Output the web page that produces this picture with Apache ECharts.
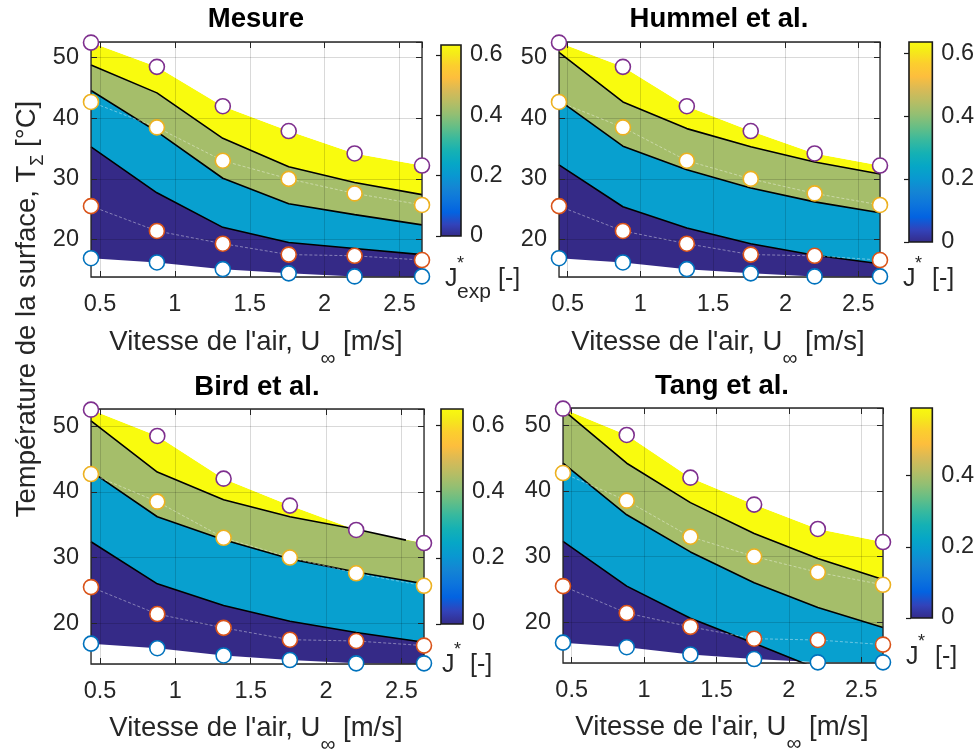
<!DOCTYPE html>
<html><head><meta charset="utf-8">
<script src="https://cdn.jsdelivr.net/npm/echarts@6/dist/echarts.min.js"></script>
<style>html,body{margin:0;padding:0;background:#fff}#c{width:977px;height:754px}</style>
</head><body><div id="c"></div>
<script>
// ---------- data ----------
const speeds = [0.44, 0.88, 1.32, 1.76, 2.2, 2.65];           // U_inf [m/s]
const tempBlue   = [16.9, 16.2, 15.1, 14.4, 13.9, 13.9];       // measured T (lowest)
const tempRed    = [25.5, 21.4, 19.3, 17.5, 17.3, 16.6];
const tempYellow = [42.7, 38.5, 33.0, 30.0, 27.6, 25.7];
const tempPurple = [52.5, 48.5, 42.0, 37.9, 34.2, 32.2];       // measured T (highest)

// contour lines (levels between colour bands), y values at `speeds`
const mesureLine1 = [35.3, 27.7, 22.0, 19.5, 18.5, 17.5];
const mesureLine2 = [44.6, 37.8, 30.1, 25.9, 24.1, 22.4];
const mesureLine3 = [48.8, 44.2, 36.7, 32.0, 29.4, 27.4];

const hummelLine1 = [32.3, 25.4, 21.9, 19.3, 17.4, 16.0];
const hummelLine2 = [43.0, 35.4, 31.5, 28.5, 26.2, 24.4];
const hummelLine3 = [50.9, 42.7, 38.3, 35.3, 32.8, 30.8];

const birdLine1 = [32.4, 26.0, 22.7, 20.3, 18.6, 17.1];
const birdLine2 = [43.1, 36.2, 32.7, 29.8, 27.8, 26.0];
const birdLine3 = [50.8, 43.0, 38.8, 36.2, 34.3, null];
const birdLine3Exit = [2.53, 32.65];   // where the line leaves the domain (top)

const tangLine1 = [32.3, 25.5, 20.6, 16.8, 12.9, null];
const tangLine2 = [44.2, 36.35, 30.7, 26.0, 22.25, 19.2];
const tangLine3 = [52.3, 44.2, 38.2, 33.5, 29.7, 26.5];

const xTicks = [0.5, 1, 1.5, 2, 2.5];
const yTicks = [20, 30, 40, 50];
const cbarTicks = [0, 0.2, 0.4, 0.6];
const cbarMax = [0.633, 0.635, 0.65, 0.59];

const titles = ['Mesure', 'Hummel et al.', 'Bird et al.', 'Tang et al.'];

// ---------- styles ----------
const F = '"Liberation Sans", Arial, Helvetica, sans-serif';
const TXT = '#262626';
const bandColors = ['#352a87', '#08a0cf', '#a5be6a', '#f9fb0e'];
const markerColors = ['#0072BD', '#D95319', '#EDB120', '#7E2F8E'];
const parulaIdx = [0, 4, 8, 12, 16, 20, 24, 28, 32, 36, 40, 44, 48, 52, 56, 60, 63];
const parulaCol = ['#352a87', '#3243ba', '#0363e1', '#0d75dc', '#1485d4', '#0998d1', '#06a7c6', '#15b1b4',
  '#38b99e', '#65be86', '#92bf73', '#b7bd64', '#d9ba56', '#fdbe3d', '#fcce2e', '#f5eb18', '#f9fb0e'];
const yMin = 13.8, yMax = 52.6, xMin = 0.44, xMax = 2.65;
const LABEL_FS = 27.5, TICK_FS = 23.5;

const layout = [
  { grid: {left: 91, top: 42, width: 331, height: 235}, cbar: {left: 441, top: 45, width: 20, height: 191},
    title: [256, 19], xlab: [256, 342], j: [445, 279], sub: 'exp', bracketDx: 53 },
  { grid: {left: 559, top: 42, width: 321, height: 235}, cbar: {left: 909, top: 42, width: 24, height: 200},
    title: [719, 19], xlab: [718, 342], j: [903, 279], sub: null, bracketDx: 29 },
  { grid: {left: 91, top: 409, width: 333, height: 255}, cbar: {left: 441, top: 409, width: 22, height: 215},
    title: [257, 387], xlab: [256, 728], j: [442, 665], sub: null, bracketDx: 28 },
  { grid: {left: 563, top: 408, width: 320, height: 255}, cbar: {left: 911, top: 408, width: 23, height: 210},
    title: [722, 386], xlab: [722, 727], j: [906, 657], sub: null, bracketDx: 29 }
];

const panelLines = [
  [{y: mesureLine1}, {y: mesureLine2}, {y: mesureLine3}],
  [{y: hummelLine1}, {y: hummelLine2}, {y: hummelLine3}],
  [{y: birdLine1}, {y: birdLine2}, {y: birdLine3, exit: birdLine3Exit, exitTop: true}],
  [{y: tangLine1}, {y: tangLine2}, {y: tangLine3}]
];

const pairs = (ys) => speeds.map((x, i) => ys[i] == null ? null : [x, ys[i]]).filter(Boolean);
const near = (v, arr) => arr.some(t => Math.abs(t - v) < 1e-6);

const grids = [], xAxes = [], yAxes = [], series = [], graphics = [];

layout.forEach((L, p) => {
  grids[p] = Object.assign({show: true, borderColor: TXT, borderWidth: 1.3, backgroundColor: 'transparent', z: 10}, L.grid);
  const cbGrad = {type: 'linear', x: 0, y: 1, x2: 0, y2: 0,
    colorStops: parulaIdx.map((k, i) => ({offset: k / 63, color: parulaCol[i]}))};
  grids[4 + p] = Object.assign({show: true, borderColor: '#1a1a1a', borderWidth: 1.6, backgroundColor: cbGrad, z: 0}, L.cbar);

  const common = {type: 'value', gridIndex: p, axisLine: {show: false}, z: 7,
    axisTick: {inside: true, length: 6, lineStyle: {color: TXT, width: 1}}};
  xAxes[p] = Object.assign({}, common, {min: xMin, max: xMax, position: 'bottom',
    axisLabel: {fontSize: TICK_FS, fontFamily: F, color: TXT, margin: 16, showMinLabel: false, showMaxLabel: false,
      formatter: v => near(v, xTicks) ? String(v) : ''},
    splitLine: {show: true, lineStyle: {color: 'rgba(0,0,0,0.15)', width: 1}}});
  yAxes[p] = Object.assign({}, common, {min: yMin, max: yMax, position: 'left',
    axisLabel: {fontSize: TICK_FS, fontFamily: F, color: TXT, margin: 12, showMinLabel: false, showMaxLabel: false,
      formatter: v => near(v, yTicks) ? String(v) : ''},
    splitLine: {show: true, lineStyle: {color: 'rgba(0,0,0,0.15)', width: 1}}});
  xAxes[4 + p] = Object.assign({}, common, {min: xMin, max: xMax, position: 'top',
    axisLabel: {show: false}, splitLine: {show: false}});
  yAxes[4 + p] = Object.assign({}, common, {min: yMin, max: yMax, position: 'right',
    axisLabel: {show: false}, splitLine: {show: false}});
  xAxes[8 + p] = {type: 'value', gridIndex: 4 + p, min: 0, max: 1, show: false};
  yAxes[8 + p] = {type: 'value', gridIndex: 4 + p, min: 0, max: cbarMax[p], interval: 0.2, position: 'right', z: 1,
    axisLine: {show: false}, splitLine: {show: false},
    axisTick: {inside: true, length: 5, lineStyle: {color: '#1a1a1a', width: 1.2}},
    axisLabel: {fontSize: TICK_FS, fontFamily: F, color: TXT, margin: 9, showMaxLabel: false,
      formatter: v => near(v, cbarTicks) ? String(v) : ''}};

  const base = {xAxisIndex: p, yAxisIndex: p, silent: true, animation: false};
  const area = (data, color, origin, z) => Object.assign({type: 'line', data, symbol: 'none', showSymbol: false,
    lineStyle: {width: 0, opacity: 0}, areaStyle: {color, opacity: 1, origin}, z}, base);

  const lines = panelLines[p].map(l => {
    const pts = pairs(l.y);
    if (l.exit) pts.push(l.exit);
    return {pts, l};
  });
  // area under each contour line; where a line leaves through the top, continue along the top boundary
  const areaPts = lines.map(({pts, l}) => {
    const a = pts.slice();
    if (l.exitTop) {
      const lastX = a[a.length - 1][0];
      speeds.forEach((x, i) => { if (x > lastX) a.push([x, tempPurple[i]]); });
    }
    return a;
  });

  series.push(area(pairs(tempPurple), bandColors[3], 'start', 1));
  series.push(area(areaPts[2], bandColors[2], 'start', 2));
  series.push(area(areaPts[1], bandColors[1], 'start', 3));
  series.push(area(areaPts[0], bandColors[0], 'start', 4));
  series.push(area(pairs(tempBlue), '#ffffff', 'start', 5));
  series.push(area(pairs(tempPurple), '#ffffff', 'end', 6));

  lines.forEach(({pts}) => series.push(Object.assign({type: 'line', data: pts, symbol: 'none', showSymbol: false,
    lineStyle: {color: '#000', width: 1.6}, z: 8}, base)));

  [tempRed, tempYellow].forEach(t => series.push(Object.assign({type: 'line', data: pairs(t), symbol: 'none',
    showSymbol: false, lineStyle: {color: 'rgba(255,255,255,0.5)', width: 0.8, type: [3, 2]}, z: 9}, base)));

  [tempBlue, tempRed, tempYellow, tempPurple].forEach((t, k) => series.push(Object.assign({type: 'scatter',
    data: pairs(t), symbol: 'circle', symbolSize: 15, clip: false,
    itemStyle: {color: '#ffffff', borderColor: markerColors[k], borderWidth: 1.6, opacity: 1}, z: 11}, base)));

  // texts
  graphics.push({type: 'text', x: L.title[0], y: L.title[1], z: 20, style: {text: titles[p], fontSize: LABEL_FS,
    fontWeight: 'bold', fontFamily: F, fill: '#000', align: 'center', verticalAlign: 'middle'}});
  graphics.push({type: 'text', x: L.xlab[0], y: L.xlab[1], z: 20, style: {
    text: "{a|Vitesse de l'air, U}{s|\u221e}{a| [m/s]}", align: 'center', verticalAlign: 'middle',
    rich: {a: {fontSize: LABEL_FS, fontFamily: F, fill: TXT, verticalAlign: 'middle'},
           s: {fontSize: 21, fontFamily: F, fill: TXT, verticalAlign: 'middle', padding: [34, 0, 0, 0]}}}});
  const jx = L.j[0], jy = L.j[1];
  graphics.push({type: 'text', x: jx, y: jy, z: 20, style: {text: 'J', fontSize: 25, fontFamily: F, fill: TXT, align: 'left', verticalAlign: 'middle'}});
  graphics.push({type: 'text', x: jx + 12, y: jy - 15, z: 20, style: {text: '*', fontSize: 18, fontFamily: F, fill: TXT, align: 'left', verticalAlign: 'middle'}});
  if (L.sub) graphics.push({type: 'text', x: jx + 12, y: jy + 13, z: 20, style: {text: L.sub, fontSize: 21, fontFamily: F, fill: TXT, align: 'left', verticalAlign: 'middle'}});
  graphics.push({type: 'text', x: jx + L.bracketDx, y: jy, z: 20, style: {text: '[-]', fontSize: 25, fontFamily: F, fill: TXT, align: 'left', verticalAlign: 'middle'}});
});

graphics.push({type: 'text', x: 27, y: 309, rotation: Math.PI / 2, z: 20, style: {
  text: '{a|Temp\u00e9rature de la surface, T}{s|\u03a3}{a| [\u00b0C]}', align: 'center', verticalAlign: 'middle',
  rich: {a: {fontSize: LABEL_FS, fontFamily: F, fill: TXT, verticalAlign: 'middle'},
         s: {fontSize: 18, fontFamily: F, fill: TXT, verticalAlign: 'middle', padding: [22, 0, 0, 0]}}}});

const chart = echarts.init(document.getElementById('c'), null, {renderer: 'canvas'});
chart.setOption({animation: false, backgroundColor: '#fff', grid: grids, xAxis: xAxes, yAxis: yAxes,
  series, graphic: {elements: graphics}});
</script></body></html>
